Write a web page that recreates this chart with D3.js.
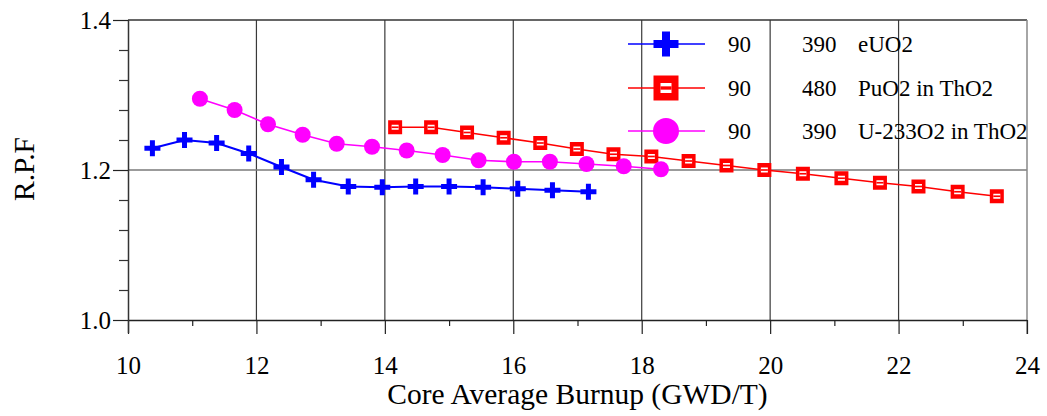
<!DOCTYPE html>
<html>
<head>
<meta charset="utf-8">
<script src="https://cdn.jsdelivr.net/npm/d3@7"></script>
<style>
  html, body { margin: 0; padding: 0; background: #fff; }
  svg { display: block; }
  svg text { font-family: "Liberation Serif", "Times New Roman", serif; }
</style>
</head>
<body>
<svg id="chart" width="1047" height="416"></svg>
<script>
// Burnup (GWD/T) and radial power factor for each core loading
const burnupEUO2 = [10.38, 10.88, 11.38, 11.88, 12.39, 12.89, 13.43, 13.96, 14.48, 15.00, 15.53, 16.07, 16.61, 17.17];
const rpfEUO2    = [1.229, 1.240, 1.236, 1.222, 1.204, 1.187, 1.178, 1.177, 1.178, 1.178, 1.177, 1.175, 1.173, 1.171];

const burnupPuTh = [14.16, 14.72, 15.28, 15.85, 16.42, 16.99, 17.56, 18.15, 18.73, 19.32, 19.91, 20.51, 21.11, 21.71, 22.31, 22.92, 23.53];
const rpfPuTh    = [1.257, 1.257, 1.250, 1.243, 1.236, 1.228, 1.221, 1.218, 1.212, 1.206, 1.200, 1.195, 1.189, 1.183, 1.178, 1.171, 1.165];

const burnupU233 = [11.12, 11.66, 12.18, 12.72, 13.25, 13.80, 14.34, 14.90, 15.46, 16.01, 16.57, 17.14, 17.72, 18.30];
const rpfU233    = [1.295, 1.280, 1.261, 1.247, 1.235, 1.231, 1.226, 1.220, 1.213, 1.211, 1.211, 1.208, 1.205, 1.201];

// Legend columns
const legendCol1  = ["90", "90", "90"];
const legendCol2  = ["390", "480", "390"];
const legendNames = ["eUO2", "PuO2 in ThO2", "U-233O2 in ThO2"];

// Axis ticks
const xMajorTicks = [10, 12, 14, 16, 18, 20, 22, 24];
const xMinorTicks = [11, 13, 15, 17, 19, 21, 23];
const yMajorTicks = [1.0, 1.2, 1.4];
const yMinorTicks = [1.04, 1.08, 1.12, 1.16, 1.24, 1.28, 1.32, 1.36];

const svg = d3.select("#chart");
const plotL = 128, plotR = 1027, plotT = 20, plotB = 320;
const serif = '"Liberation Serif", "Times New Roman", serif';

const x = d3.scaleLinear().domain([10, 24]).range([plotL, plotR]);
const y = d3.scaleLinear().domain([1.0, 1.4]).range([plotB, plotT]);

// Grid
const grid = svg.append("g");
grid.selectAll("line.v").data(xMajorTicks.slice(1, -1)).join("line")
  .attr("x1", d => x(d)).attr("x2", d => x(d))
  .attr("y1", plotT).attr("y2", plotB)
  .attr("stroke", "#3a3a3a").attr("stroke-width", 1.2);
grid.append("line")
  .attr("x1", plotL).attr("x2", plotR).attr("y1", y(1.2)).attr("y2", y(1.2))
  .attr("stroke", "#7a7a7a").attr("stroke-width", 1.5);
// Frame top and right
grid.append("line").attr("x1", plotL).attr("x2", plotR).attr("y1", plotT).attr("y2", plotT)
  .attr("stroke", "#333").attr("stroke-width", 1.5);
grid.append("line").attr("x1", plotR).attr("x2", plotR).attr("y1", plotT).attr("y2", plotB + 14)
  .attr("stroke", "#888").attr("stroke-width", 1.5);

// X axis
const xAxis = d3.axisBottom(x).tickValues(xMajorTicks).tickSize(14).tickPadding(22)
  .tickFormat(d3.format("d"));
const gx = svg.append("g").attr("transform", `translate(0,${plotB})`).call(xAxis)
  .attr("font-family", null).attr("font-size", null);
gx.select(".domain").attr("d", `M${plotL},0.5H${plotR}`).attr("stroke", "#222").attr("stroke-width", 1.5);
gx.selectAll(".tick line").attr("stroke", "#222").attr("stroke-width", 1.2);
gx.selectAll(".tick text").style("font-size", "25px").style("font-family", serif).attr("fill", "#000");
const xMinor = d3.axisBottom(x).tickValues(xMinorTicks).tickSize(6).tickFormat("");
const gxm = svg.append("g").attr("transform", `translate(0,${plotB})`).call(xMinor);
gxm.select(".domain").remove();
gxm.selectAll(".tick line").attr("stroke", "#222").attr("stroke-width", 1.2);

// Y axis
const yAxis = d3.axisLeft(y).tickValues(yMajorTicks).tickSize(15).tickPadding(2)
  .tickFormat(d3.format(".1f"));
const gy = svg.append("g").attr("transform", `translate(${plotL},0)`).call(yAxis)
  .attr("font-family", null).attr("font-size", null);
gy.select(".domain").attr("d", `M0.5,${plotT}V${plotB + 13}`).attr("stroke", "#333").attr("stroke-width", 1.5);
gy.selectAll(".tick line").attr("stroke", "#222").attr("stroke-width", 1.2);
gy.selectAll(".tick text").style("font-size", "25px").style("font-family", serif).attr("fill", "#000");
const yMinor = d3.axisLeft(y).tickValues(yMinorTicks).tickSize(9).tickFormat("");
const gym = svg.append("g").attr("transform", `translate(${plotL},0)`).call(yMinor);
gym.select(".domain").remove();
gym.selectAll(".tick line").attr("stroke", "#333").attr("stroke-width", 1.2);

// Axis titles
svg.append("text").attr("x", (plotL + plotR) / 2).attr("y", 404)
  .attr("text-anchor", "middle").style("font-size", "29.5px").attr("fill", "#000")
  .text("Core Average Burnup (GWD/T)");
svg.append("text").attr("transform", `translate(34,${(plotT + plotB) / 2 - 1}) rotate(-90)`)
  .attr("text-anchor", "middle").style("font-size", "29.5px").attr("fill", "#000")
  .text("R.P.F");

// Marker drawers
function crossMarker(g, s, t, color) {
  g.append("rect").attr("x", -s / 2).attr("y", -t / 2).attr("width", s).attr("height", t).attr("fill", color);
  g.append("rect").attr("x", -t / 2).attr("y", -s / 2).attr("width", t).attr("height", s).attr("fill", color);
}
function squareMarker(g, s, hw, hh, color) {
  g.append("rect").attr("x", -s / 2).attr("y", -s / 2).attr("width", s).attr("height", s).attr("fill", color);
  g.append("rect").attr("x", -hw / 2).attr("y", -hh / 2).attr("width", hw).attr("height", hh).attr("fill", "#fff");
  g.append("line").attr("x1", -hw / 2).attr("x2", hw / 2).attr("y1", 0).attr("y2", 0)
    .attr("stroke", color).attr("stroke-width", Math.max(1, hh / 3));
}
function circleMarker(g, r, color) {
  g.append("circle").attr("r", r).attr("fill", color);
}

const series = [
  { xs: burnupEUO2, ys: rpfEUO2, color: "#0000ff", width: 2, draw: g => crossMarker(g, 16, 5, "#0000ff"),
    legend: g => crossMarker(g, 25, 8, "#0000ff") },
  { xs: burnupPuTh, ys: rpfPuTh, color: "#ff0000", width: 1.6, draw: g => squareMarker(g, 14, 7, 5, "#ff0000"),
    legend: g => squareMarker(g, 25, 11, 10, "#ff0000") },
  { xs: burnupU233, ys: rpfU233, color: "#ff00ff", width: 1.6, draw: g => circleMarker(g, 8, "#ff00ff"),
    legend: g => circleMarker(g, 13, "#ff00ff") }
];

const line = d3.line().x(d => x(d[0])).y(d => y(d[1]));
series.forEach(s => {
  const pts = s.xs.map((v, i) => [v, s.ys[i]]);
  const g = svg.append("g");
  g.append("path").attr("d", line(pts)).attr("fill", "none")
    .attr("stroke", s.color).attr("stroke-width", s.width);
  pts.forEach(p => {
    const m = g.append("g").attr("transform", `translate(${x(p[0])},${y(p[1])})`);
    s.draw(m);
  });
});

// Legend
const legendY = [44, 88, 131];
series.forEach((s, i) => {
  const g = svg.append("g").attr("transform", `translate(0,${legendY[i]})`);
  g.append("line").attr("x1", 628).attr("x2", 705).attr("y1", 0).attr("y2", 0)
    .attr("stroke", s.color).attr("stroke-width", 1.6);
  const m = g.append("g").attr("transform", "translate(666,0)");
  s.legend(m);
  const txt = [[728, legendCol1[i]], [802, legendCol2[i]], [858, legendNames[i]]];
  txt.forEach(([tx, label]) => {
    g.append("text").attr("x", tx).attr("y", 8).style("font-size", "23px").attr("fill", "#000").text(label);
  });
});
</script>
</body>
</html>
